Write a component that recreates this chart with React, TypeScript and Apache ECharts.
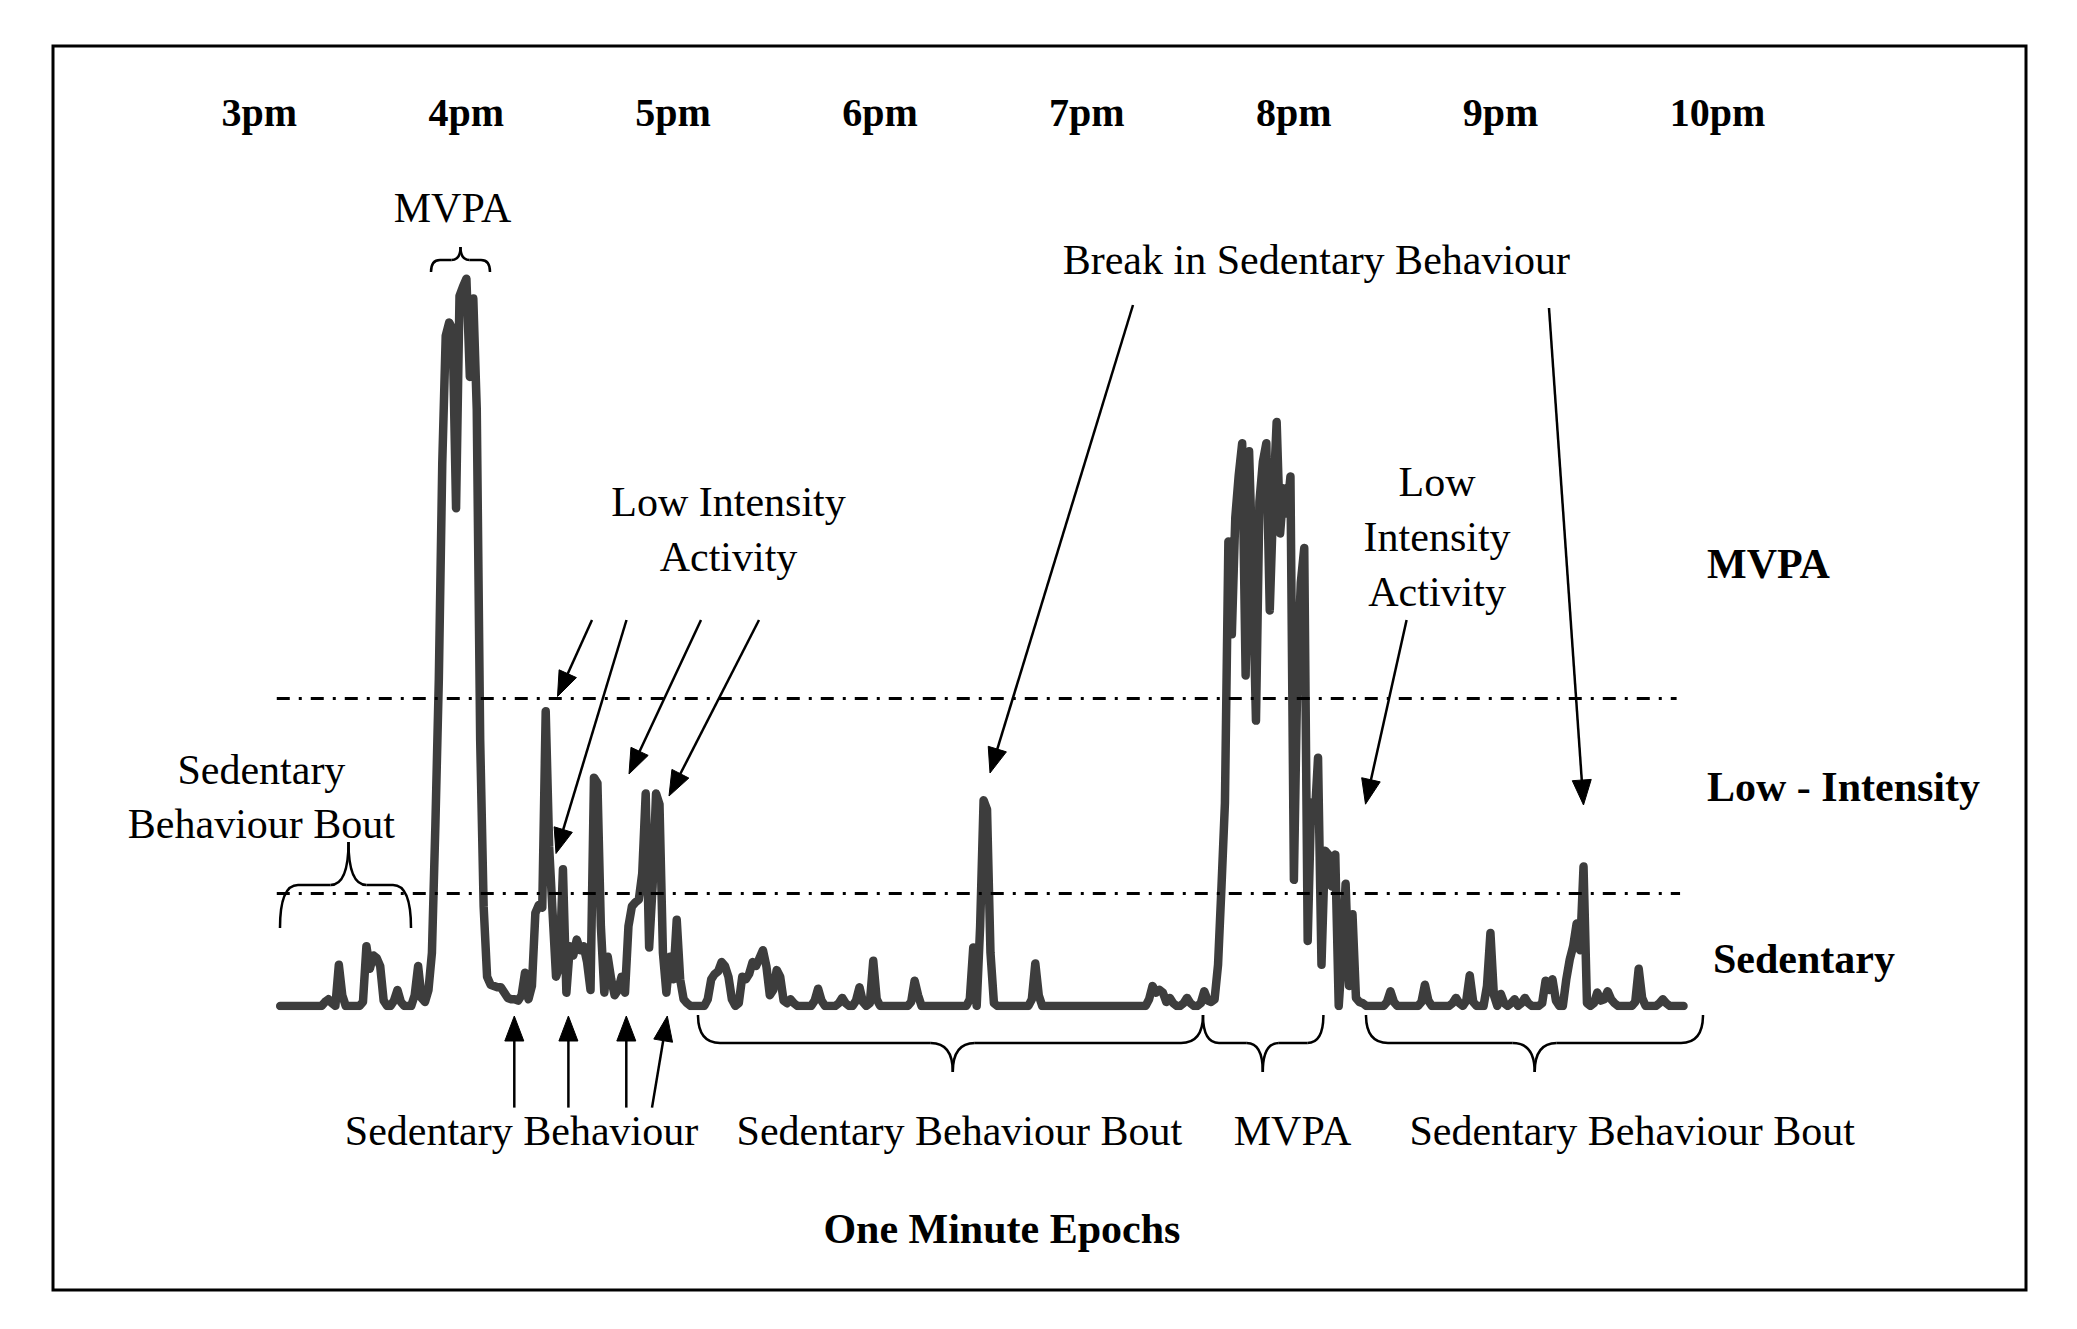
import React, { useEffect, useRef } from "react";
import * as echarts from "echarts";

// ---------- DATA ----------
// Hour labels along the top time axis (one every 60 one-minute epochs)
const timeLabels = ["3pm", "4pm", "5pm", "6pm", "7pm", "8pm", "9pm", "10pm"];
const minutesPerHour = 60;

// Activity counts per one-minute epoch (arbitrary count units).
// Each period lists consecutive minutes starting at its start minute (minutes after 3pm on the axis).
const afternoonBoutStart = 17;
const afternoonBout = [
  0, 0, 0, 0, 0, 0, 0, 0, 0, 0,
  0, 0, 0, 3, 5, 2, 0, 31, 8, 0,
  0, 0, 0, 0, 3, 45, 28, 38, 36, 30,
  4, 0, 0, 4, 12, 3, 0, 0, 0, 8,
  30, 6, 3, 12,
];

const mvpaAfternoonStart = 61;
const mvpaAfternoon = [
  40, 136, 246, 409, 505, 515, 510, 375, 535, 542,
  548, 474, 533, 450, 200, 75, 22, 16, 15, 14,
  14, 10, 6, 5, 5, 4,
];

const lowIntensityStart = 87;
const lowIntensity = [
  8, 25, 5, 15, 70, 76, 74, 222, 120, 70,
  22, 30, 103, 10, 45, 38, 50, 42, 45, 33,
  12, 172, 168, 60, 10, 37, 20, 8, 12, 22,
  10, 60, 75, 78, 80, 100, 160, 44, 90, 160,
  152, 40, 10, 37, 20, 65, 20, 5, 2, 0,
];

const eveningBoutStart = 137;
const eveningBout = [
  0, 0, 0, 0, 5, 20, 24, 26, 33, 30,
  22, 5, 0, 2, 22, 20, 24, 33, 30, 36,
  42, 30, 8, 12, 27, 22, 4, 2, 5, 2,
  0, 0, 0, 0, 0, 4, 13, 4, 0, 0,
  0, 0, 2, 6, 2, 0, 0, 4, 14, 3,
  0, 2, 34, 5, 0, 0, 0, 0, 0, 0,
  0, 0, 0, 3, 19, 8, 0, 0, 0, 0,
  0, 0, 0, 0, 0, 0, 0, 0, 0, 0,
  5, 44, 0, 60, 155, 148, 40, 2, 0, 0,
  0, 0, 0, 0, 0, 0, 0, 0, 5, 32,
  8, 0, 0, 0, 0, 0, 0, 0, 0, 0,
  0, 0, 0, 0, 0, 0, 0, 0, 0, 0,
  0, 0, 0, 0, 0, 0, 0, 0, 0, 0,
  0, 0, 5, 15, 10, 12, 10, 3, 6, 2,
  0, 0, 2, 6, 2, 0, 0, 2, 11, 4,
];

const mvpaEveningStart = 287;
const mvpaEvening = [
  3, 5, 31, 90, 153, 350, 280, 368, 400, 424,
  249, 418, 330, 215, 380, 410, 424, 298, 380, 440,
  356, 390, 371, 399, 95, 250, 319, 345, 49, 153,
  140, 187, 31, 117, 114, 90, 114, 0, 40, 92,
  15, 69, 6, 3, 2, 0,
];

const lateBoutStart = 333;
const lateBout = [
  0, 0, 0, 0, 0, 3, 11, 3, 0, 0,
  0, 0, 0, 0, 0, 3, 16, 4, 0, 0,
  0, 0, 0, 0, 2, 6, 2, 0, 4, 23,
  3, 0, 0, 0, 15, 55, 8, 0, 9, 2,
  0, 2, 5, 0, 2, 6, 2, 0, 0, 0,
  2, 19, 12, 20, 4, 0, 0, 20, 35, 45,
  62, 42, 105, 2, 0, 2, 10, 4, 5, 11,
  5, 2, 0, 0, 0, 0, 0, 3, 28, 6,
  0, 0, 0, 0, 2, 5, 2, 0, 0, 0,
  0, 0,
];

// Cut points separating sedentary / low-intensity / MVPA (same count units)
const cutPointValues = [85, 232];
// Minutes where the cut-point lines begin and end
const cutPointStart = 16;
const cutPointEnds = [423, 422];

// ---------- LAYOUT / STYLE ----------
const FONT = "'Liberation Serif', 'Times New Roman', Times, serif";
const INK = "#000";
const TRACE = "#3d3d3d";

type El = Record<string, unknown>;

function text(
  str: string,
  x: number,
  y: number,
  opts: { bold?: boolean; align?: string; size?: number } = {}
): El {
  return {
    type: "text",
    x,
    y,
    z: 100,
    silent: true,
    style: {
      text: str,
      fontFamily: FONT,
      fontSize: opts.size ?? 42,
      fontWeight: opts.bold ? "bold" : "normal",
      fill: INK,
      align: opts.align ?? "center",
      verticalAlign: "middle",
    },
  };
}

function arrow(x1: number, y1: number, x2: number, y2: number): El[] {
  const dx = x2 - x1;
  const dy = y2 - y1;
  const len = Math.sqrt(dx * dx + dy * dy);
  const ux = dx / len;
  const uy = dy / len;
  const headLen = 25;
  const half = 9.5;
  const bx = x2 - ux * headLen;
  const by = y2 - uy * headLen;
  const px = -uy;
  const py = ux;
  return [
    {
      type: "line",
      z: 100,
      silent: true,
      shape: { x1, y1, x2: bx + ux * 4, y2: by + uy * 4 },
      style: { stroke: INK, lineWidth: 2.5 },
    },
    {
      type: "polygon",
      z: 100,
      silent: true,
      shape: {
        points: [
          [x2, y2],
          [bx + px * half, by + py * half],
          [bx - px * half, by - py * half],
        ],
      },
      style: { fill: INK, stroke: INK, lineWidth: 1 },
    },
  ];
}

function brace(
  x1: number,
  x2: number,
  xt: number,
  yEnd: number,
  yMid: number,
  yTip: number,
  r: number
): El[] {
  const st = { stroke: INK, lineWidth: 2.5, fill: "none" };
  const curve = (ax: number, ay: number, cx: number, cy: number, bx: number, by: number): El => ({
    type: "bezierCurve",
    z: 100,
    silent: true,
    shape: { x1: ax, y1: ay, x2: bx, y2: by, cpx1: cx, cpy1: cy },
    style: st,
  });
  const seg = (ax: number, ay: number, bx: number, by: number): El => ({
    type: "line",
    z: 100,
    silent: true,
    shape: { x1: ax, y1: ay, x2: bx, y2: by },
    style: st,
  });
  return [
    curve(x1, yEnd, x1, yMid, x1 + r, yMid),
    seg(x1 + r, yMid, xt - r, yMid),
    curve(xt - r, yMid, xt, yMid, xt, yTip),
    curve(xt, yTip, xt, yMid, xt + r, yMid),
    seg(xt + r, yMid, x2 - r, yMid),
    curve(x2 - r, yMid, x2, yMid, x2, yEnd),
  ];
}

function buildOption(): echarts.EChartsCoreOption {
  const periods: [number, number[]][] = [
    [afternoonBoutStart, afternoonBout],
    [mvpaAfternoonStart, mvpaAfternoon],
    [lowIntensityStart, lowIntensity],
    [eveningBoutStart, eveningBout],
    [mvpaEveningStart, mvpaEvening],
    [lateBoutStart, lateBout],
  ];
  const activityData: number[][] = [];
  periods.forEach(([start, vals]) => {
    vals.forEach((v, i) => activityData.push([start + i, v]));
  });

  const cutLines = cutPointValues.map((v, i) => [
    { coord: [cutPointStart, v] },
    { coord: [cutPointEnds[i], v] },
  ]);

  const graphics: El[] = [
    {
      type: "rect",
      z: 100,
      silent: true,
      shape: { x: 53, y: 46, width: 1973, height: 1244 },
      style: { fill: "none", stroke: INK, lineWidth: 3 },
    },
    // upper annotations
    text("MVPA", 452.5, 208.3),
    ...brace(431, 490, 460.5, 272, 260, 247, 9),
    text("Break in Sedentary Behaviour", 1316.4, 260.1),
    ...arrow(1133, 305, 990, 773),
    ...arrow(1549, 308, 1583.5, 805),
    text("Low Intensity", 728.5, 501.6),
    text("Activity", 728.5, 557.3),
    ...arrow(592, 620, 557.5, 696.5),
    ...arrow(626.5, 620, 556, 853.5),
    ...arrow(701, 620, 629, 774),
    ...arrow(759, 620, 669, 796),
    text("Low", 1437.1, 481.7),
    text("Intensity", 1437.1, 537.4),
    text("Activity", 1437.1, 591.8),
    ...arrow(1406.6, 620, 1365.5, 804.2),
    text("Sedentary", 261.4, 769.7),
    text("Behaviour Bout", 261.4, 824.1),
    ...brace(280, 411, 348.5, 928, 885, 842, 18),
    // right-hand band labels
    text("MVPA", 1707, 564, { bold: true, align: "left" }),
    text("Low - Intensity", 1707, 786.9, { bold: true, align: "left" }),
    text("Sedentary", 1713, 959.4, { bold: true, align: "left" }),
    // lower annotations
    ...arrow(514.3, 1107.6, 514.3, 1016),
    ...arrow(568.4, 1107.6, 568.4, 1016),
    ...arrow(626.3, 1107.6, 626.3, 1016),
    ...arrow(652, 1107.6, 667.3, 1016),
    ...brace(698, 1203, 952.8, 1015, 1043, 1072, 22),
    ...brace(1203, 1323.4, 1262.8, 1015, 1043, 1072, 16),
    ...brace(1366, 1703, 1534.7, 1015, 1043, 1072, 22),
    text("Sedentary Behaviour", 521.5, 1130.6),
    text("Sedentary Behaviour Bout", 959.4, 1130.6),
    text("MVPA", 1292.5, 1130.6),
    text("Sedentary Behaviour Bout", 1632.2, 1130.6),
    text("One Minute Epochs", 1001.9, 1228.8, { bold: true }),
  ];

  return {
    animation: false,
    backgroundColor: "#ffffff",
    textStyle: { fontFamily: FONT },
    grid: {
      left: 221.6,
      top: 209.7,
      width: 1482.6,
      height: 796.2,
      containLabel: false,
      outerBoundsMode: "none",
    },
    xAxis: {
      type: "value",
      position: "top",
      min: 0,
      max: 430,
      interval: minutesPerHour,
      axisLine: { show: false },
      axisTick: { show: false },
      splitLine: { show: false },
      axisLabel: {
        show: true,
        margin: 97,
        align: "left",
        verticalAlign: "middle",
        fontFamily: FONT,
        fontWeight: "bold",
        fontSize: 40,
        color: INK,
        formatter: (value: number) => {
          const i = value / minutesPerHour;
          return Number.isInteger(i) && i < timeLabels.length ? timeLabels[i] : "";
        },
      },
    },
    yAxis: {
      type: "value",
      min: 0,
      max: 600,
      show: false,
      splitLine: { show: false },
    },
    series: [
      {
        type: "line",
        data: activityData,
        showSymbol: false,
        symbol: "none",
        silent: true,
        lineStyle: { color: TRACE, width: 8.5, join: "round", cap: "round" },
        emphasis: { disabled: true },
        markLine: {
          silent: true,
          symbol: ["none", "none"],
          label: { show: false },
          lineStyle: { color: INK, width: 3, type: [13, 9, 3, 9] },
          emphasis: { disabled: true },
          data: cutLines,
        },
      },
    ],
    graphic: { elements: graphics },
  };
}

export default function App() {
  const ref = useRef<HTMLDivElement>(null);
  useEffect(() => {
    if (!ref.current) return;
    const chart = echarts.init(ref.current, null, { renderer: "svg" });
    chart.setOption(buildOption());
    return () => chart.dispose();
  }, []);
  return (
    <div
      ref={ref}
      style={{
        position: "fixed",
        left: 0,
        top: 0,
        width: 2077,
        height: 1329,
        background: "#ffffff",
      }}
    />
  );
}
